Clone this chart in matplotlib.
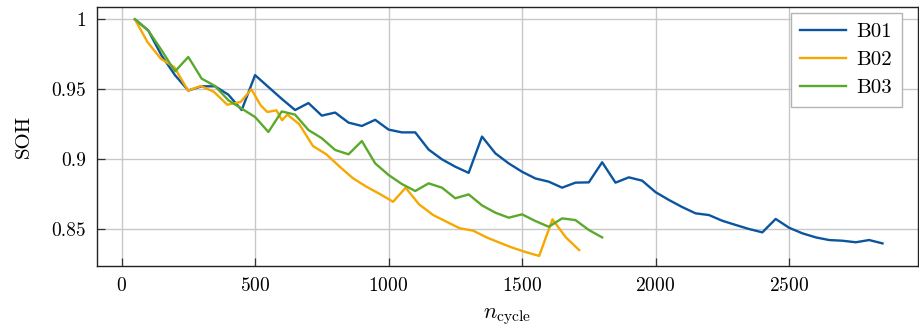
import matplotlib
matplotlib.use("Agg")
import matplotlib.pyplot as plt
from matplotlib.ticker import FuncFormatter

plt.rcParams.update({
    "font.family": "serif",
    "font.serif": ["cmr10", "DejaVu Serif"],
    "mathtext.fontset": "cm",
    "axes.unicode_minus": False,
    "axes.formatter.use_mathtext": True,
    "font.size": 14,
})

# State of health per battery over cycle count
b01_cycles = [50, 100, 150, 200, 250, 300, 350, 400, 450, 500, 550, 600, 650, 700,
              750, 800, 850, 900, 950, 1000, 1050, 1100, 1150, 1200, 1250, 1300,
              1350, 1400, 1450, 1500, 1550, 1600, 1650, 1700, 1750, 1800, 1850,
              1900, 1950, 2000, 2050, 2100, 2150, 2200, 2250, 2300, 2350, 2400,
              2450, 2500, 2550, 2600, 2650, 2700, 2750, 2800, 2850]
b01_soh = [1.0, 0.992, 0.974, 0.960, 0.949, 0.952, 0.952, 0.946, 0.935, 0.960,
           0.9515, 0.943, 0.935, 0.940, 0.931, 0.9332, 0.926, 0.9236, 0.928,
           0.921, 0.919, 0.919, 0.9067, 0.8997, 0.8944, 0.890, 0.916, 0.904,
           0.8968, 0.8908, 0.886, 0.8837, 0.8794, 0.883, 0.8832, 0.8976, 0.883,
           0.8868, 0.8844, 0.8762, 0.8706, 0.8655, 0.861, 0.8598, 0.8557, 0.8527,
           0.8498, 0.8474, 0.857, 0.8507, 0.8467, 0.8438, 0.8419, 0.8414, 0.8403,
           0.8419, 0.8395]

b02_cycles = [50, 97, 147, 197, 249, 297, 346, 396, 446, 486, 521, 546, 580, 601,
              621, 665, 717, 767, 817, 867, 917, 967, 1017, 1064, 1114, 1167, 1217,
              1267, 1317, 1367, 1416, 1460, 1510, 1564, 1614, 1664, 1714]
b02_soh = [1.0, 0.9837, 0.9718, 0.9658, 0.949, 0.9522, 0.948, 0.9388, 0.9408,
           0.9499, 0.9384, 0.9336, 0.9348, 0.9277, 0.9317, 0.925, 0.9092, 0.9033,
           0.8944, 0.8861, 0.8801, 0.8749, 0.8693, 0.8794, 0.8675, 0.8598, 0.855,
           0.8503, 0.8486, 0.8438, 0.840, 0.8367, 0.8335, 0.8305, 0.8567, 0.8438,
           0.8347]

b03_cycles = [50, 100, 150, 200, 250, 300, 350, 400, 450, 500, 550, 600, 650, 700,
              750, 800, 850, 900, 950, 1000, 1050, 1100, 1150, 1200, 1250, 1300,
              1350, 1400, 1450, 1500, 1550, 1600, 1650, 1700, 1750, 1800]
b03_soh = [1.0, 0.992, 0.9778, 0.9627, 0.973, 0.9575, 0.9522, 0.942, 0.936, 0.930,
           0.9193, 0.934, 0.9317, 0.9207, 0.9148, 0.9064, 0.9033, 0.9128, 0.8968,
           0.8885, 0.882, 0.877, 0.8825, 0.8794, 0.8718, 0.8746, 0.8667, 0.8615,
           0.8579, 0.8603, 0.8555, 0.8514, 0.8574, 0.8562, 0.8491, 0.8438]

series_names = ["B01", "B02", "B03"]
colors = ["#0b559f", "#f6a800", "#5ba92b"]

fig = plt.figure(figsize=(9.2, 3.31), dpi=100)
ax = fig.add_axes([97 / 920, 1 - 266 / 331, (918 - 97) / 920, (266 - 7) / 331])

for xs, ys, name, c in zip([b01_cycles, b02_cycles, b03_cycles],
                           [b01_soh, b02_soh, b03_soh], series_names, colors):
    ax.plot(xs, ys, color=c, lw=1.7, label=name, zorder=3)

ax.set_xlim(-92, 2983)
ax.set_ylim(0.8233, 1.0088)
ax.set_xticks([0, 500, 1000, 1500, 2000, 2500])
ax.set_yticks([0.85, 0.9, 0.95, 1.0])
ax.yaxis.set_major_formatter(FuncFormatter(lambda v, p: f"{v:g}"))
ax.grid(True, color="#c8c8c8", lw=1.0, zorder=0)
ax.tick_params(direction="in", length=6, width=0.9, color="#333333", pad=8)
for s in ax.spines.values():
    s.set_linewidth(1.0)
    s.set_color("#222222")

ax.set_xlabel(r"$n_{\mathrm{cycle}}$", fontsize=16, labelpad=8)
ax.set_ylabel("SOH", fontsize=15, labelpad=13)

leg = ax.legend(loc="upper right", bbox_to_anchor=(0.980, 0.9757), borderaxespad=0,
                fancybox=False, edgecolor="#b4b4b4", framealpha=1,
                handlelength=2.2, handletextpad=0.5, labelspacing=0.45,
                borderpad=0.45, fontsize=15)
leg.get_frame().set_linewidth(1.0)

fig.savefig("out.png", dpi=100)
